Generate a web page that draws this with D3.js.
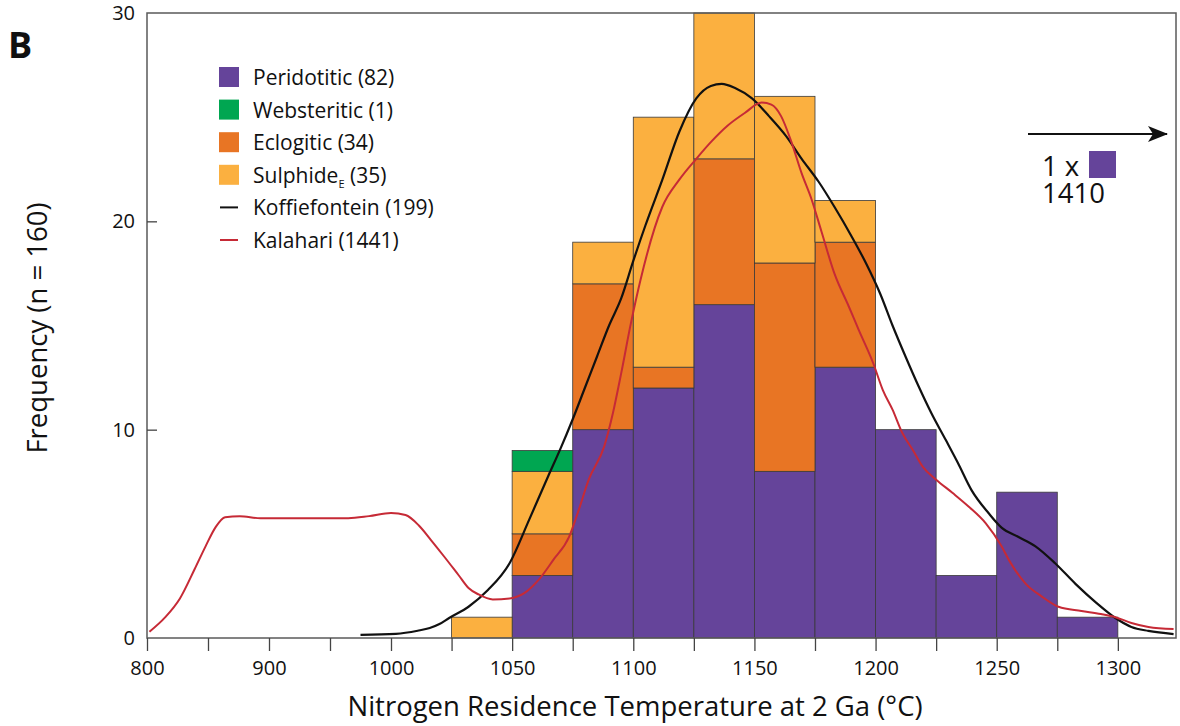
<!DOCTYPE html>
<html>
<head>
<meta charset="UTF-8">
<title>Nitrogen Residence Temperature</title>
<script src="https://d3js.org/d3.v7.min.js"></script>
<style>
  body { margin: 0; background: #fff; }
  svg { font-family: "Open Sans", "Noto Sans", sans-serif; }
  .frame { fill: none; stroke: #5a5a5a; stroke-width: 1.5; }
  .tick line { stroke: #444; stroke-width: 1.3; }
  .seg { stroke: #3a3a3a; stroke-width: 0.8; }
</style>
</head>
<body>
<svg id="chart" width="1180" height="726"></svg>
<script>
// histogram bins (left edge, bin width 25 °C)
const binStarts   = [1025, 1050, 1075, 1100, 1125, 1150, 1175, 1200, 1225, 1250, 1275];
const peridotitic = [0, 3, 10, 12, 16, 8, 13, 10, 3, 7, 1];
const eclogitic   = [0, 2, 7, 1, 7, 10, 6, 0, 0, 0, 0];
const sulphide    = [1, 3, 2, 12, 7, 8, 2, 0, 0, 0, 0];
const websteritic = [0, 1, 0, 0, 0, 0, 0, 0, 0, 0, 0];

// Koffiefontein curve
const koffT = [975, 1002, 1011, 1016, 1020, 1024, 1032, 1040, 1049, 1057, 1065, 1070, 1075, 1080, 1085, 1090,
  1095, 1100, 1105, 1112, 1119, 1126, 1132, 1136.5, 1142, 1149, 1156, 1163, 1169.5, 1176.5, 1183, 1190, 1196,
  1202, 1207, 1212.4, 1217.8, 1223, 1229, 1234, 1239.6, 1246.6, 1252, 1259, 1266, 1274, 1282.5,
  1291, 1299, 1305.6, 1312.6, 1323];
const koffF = [0.15, 0.2, 0.35, 0.48, 0.67, 0.96, 1.5, 2.3, 3.6, 5.67, 7.8, 9.1, 10.5, 12.0, 13.5, 15.0,
  16.3, 18.1, 19.8, 22.0, 24.3, 25.9, 26.5, 26.6, 26.4, 25.9, 25.05, 24.1, 23.0, 21.9, 20.7, 19.3, 18.0,
  16.5, 15.0, 13.5, 12.07, 10.8, 9.5, 8.4, 7.1, 6.0, 5.3, 4.85, 4.4, 3.6, 2.6,
  1.7, 0.96, 0.53, 0.34, 0.19];

// Kalahari curve
const kalT = [802, 815, 827, 839, 848, 856, 864, 876, 893, 926, 965, 982, 1000, 1006, 1011.5, 1016.5, 1022,
  1028, 1032, 1036, 1042, 1049, 1055, 1061, 1067, 1073.5, 1077.5, 1081.6, 1088, 1091.6, 1095, 1099, 1103,
  1112, 1119, 1126, 1132, 1139, 1146, 1153, 1157, 1161, 1165, 1169.5, 1173.6, 1177.7, 1183, 1189, 1193,
  1199, 1203, 1207, 1211, 1215.5, 1219.6, 1225, 1231.7, 1238.5, 1245.5, 1252, 1255, 1262, 1268.5, 1275.5, 1285,
  1293, 1299, 1305.6, 1312.6, 1323];
const kalF = [0.3, 1.0, 1.9, 3.3, 4.4, 5.3, 5.8, 5.85, 5.75, 5.75, 5.75, 5.85, 6.0, 5.9, 5.4, 4.7, 3.9,
  3.0, 2.4, 2.1, 1.85, 1.9, 2.15, 2.8, 3.75, 4.85, 6.15, 7.6, 9.2, 10.8, 12.7, 15.1, 17.2,
  20.7, 22.0, 23.0, 23.8, 24.6, 25.2, 25.7, 25.6, 25.05, 23.9, 22.3, 21.05, 19.5, 17.5, 15.9, 14.8,
  13.2, 11.9, 10.96, 9.85, 9.0, 8.2, 7.6, 6.97, 6.3, 5.5, 4.4, 3.75, 2.6, 2.0, 1.5, 1.3,
  1.15, 1.0, 0.72, 0.53, 0.43];

const xTicks = [800, 850, 900, 950, 1000, 1025, 1050, 1075, 1100, 1125, 1150, 1175, 1200, 1225, 1250, 1275, 1300];
const xLabels = [800, 900, 1000, 1050, 1100, 1150, 1200, 1250, 1300];
const yTicks = [0, 10, 20, 30];

const colors = {
  peridotitic: "#65449a",
  websteritic: "#00a651",
  eclogitic: "#e87524",
  sulphide: "#fbb040"
};

const margin = { top: 13, left: 147 };
const width = 1029, height = 625;

const svg = d3.select("#chart");
const g = svg.append("g").attr("transform", `translate(${margin.left},${margin.top})`);

// broken x scale: 800-1000 compressed
const x = d3.scaleLinear().domain([800, 1000, 1324]).range([0, 244, width]);
const y = d3.scaleLinear().domain([0, 30]).range([height, 0]);

// stacked bars
const rows = binStarts.map((b, i) => ({
  bin: b,
  peridotitic: peridotitic[i],
  eclogitic: eclogitic[i],
  sulphide: sulphide[i],
  websteritic: websteritic[i]
}));
const keys = ["peridotitic", "eclogitic", "sulphide", "websteritic"];
const stacked = d3.stack().keys(keys)(rows);

g.selectAll(".layer")
  .data(stacked)
  .enter().append("g")
  .attr("class", "layer")
  .attr("fill", d => colors[d.key])
  .selectAll("rect")
  .data(d => d.filter(s => s[1] > s[0]))
  .enter().append("rect")
  .attr("class", "seg")
  .attr("x", d => x(d.data.bin))
  .attr("width", d => x(d.data.bin + 25) - x(d.data.bin))
  .attr("y", d => y(d[1]))
  .attr("height", d => y(d[0]) - y(d[1]));

// curves
const line = d3.line().curve(d3.curveMonotoneX);
g.append("path")
  .attr("d", line(koffT.map((t, i) => [x(t), y(koffF[i])])))
  .attr("fill", "none").attr("stroke", "#111").attr("stroke-width", 2.2);
g.append("path")
  .attr("d", line(kalT.map((t, i) => [x(t), y(kalF[i])])))
  .attr("fill", "none").attr("stroke", "#c62a36").attr("stroke-width", 2);

// frame
g.append("rect").attr("class", "frame")
  .attr("x", 0).attr("y", 0).attr("width", width).attr("height", height);

// x axis
const xAxis = g.append("g").attr("transform", `translate(0,${height})`)
  .call(d3.axisBottom(x).tickValues(xTicks).tickSize(13).tickSizeOuter(0)
    .tickFormat(d => xLabels.includes(d) ? d : ""));
xAxis.select(".domain").remove();
xAxis.selectAll("text").attr("font-size", 20).attr("fill", "#111").attr("dy", "1.05em")
  .attr("font-family", "Open Sans, sans-serif");

// y axis (ticks point inward)
const yAxis = g.append("g")
  .call(d3.axisRight(y).tickValues(yTicks).tickSize(10).tickSizeOuter(0));
yAxis.select(".domain").remove();
yAxis.selectAll(".tick line").filter(d => d === 0 || d === 30).remove();
yAxis.selectAll("text").attr("x", -12).attr("text-anchor", "end")
  .attr("font-size", 20).attr("fill", "#111").attr("font-family", "Open Sans, sans-serif");

// axis titles
svg.append("text")
  .attr("x", 635).attr("y", 716)
  .attr("text-anchor", "middle").attr("font-size", 27.5).attr("fill", "#111")
  .text("Nitrogen Residence Temperature at 2 Ga (°C)");

svg.append("text")
  .attr("transform", "translate(47,328) rotate(-90)")
  .attr("text-anchor", "middle").attr("font-size", 27.5).attr("fill", "#111")
  .text("Frequency (n = 160)");

svg.append("text")
  .attr("x", 8).attr("y", 58)
  .attr("font-size", 36).attr("font-weight", "bold").attr("fill", "#111")
  .text("B");

// legend
const legend = [
  { type: "box", color: colors.peridotitic, label: "Peridotitic (82)" },
  { type: "box", color: colors.websteritic, label: "Websteritic (1)" },
  { type: "box", color: colors.eclogitic, label: "Eclogitic (34)" },
  { type: "box", color: colors.sulphide, label: "Sulphide", sub: "E", rest: " (35)" },
  { type: "line", color: "#111", label: "Koffiefontein (199)" },
  { type: "line", color: "#c62a36", label: "Kalahari (1441)" }
];
const lg = svg.append("g").attr("transform", "translate(219,77)");
const item = lg.selectAll(".item").data(legend).enter().append("g")
  .attr("transform", (d, i) => `translate(0,${i * 32.6})`);
item.filter(d => d.type === "box").append("rect")
  .attr("x", 0).attr("y", -10).attr("width", 20).attr("height", 20)
  .attr("fill", d => d.color);
item.filter(d => d.type === "line").append("line")
  .attr("x1", 1).attr("x2", 19).attr("y1", 0).attr("y2", 0)
  .attr("stroke", d => d.color).attr("stroke-width", 2);
const lt = item.append("text").attr("x", 34).attr("y", 8)
  .attr("font-size", 21).attr("fill", "#111");
lt.append("tspan").text(d => d.label);
lt.filter(d => d.sub).append("tspan").attr("font-size", 11).attr("dy", 5).text(d => d.sub);
lt.filter(d => d.sub).append("tspan").attr("dy", -5).text(d => d.rest);

// off-scale annotation
const defs = svg.append("defs");
defs.append("marker").attr("id", "arrow").attr("viewBox", "0 0 20 16")
  .attr("refX", 19).attr("refY", 8).attr("markerWidth", 20).attr("markerHeight", 16)
  .attr("markerUnits", "userSpaceOnUse").attr("orient", "auto")
  .append("path").attr("d", "M0,0 L20,8 L0,16 L5,8 Z").attr("fill", "#111");
svg.append("line")
  .attr("x1", 1028).attr("x2", 1167).attr("y1", 134).attr("y2", 134)
  .attr("stroke", "#111").attr("stroke-width", 2).attr("marker-end", "url(#arrow)");
const note = svg.append("text").attr("font-size", 27.5).attr("fill", "#111");
note.append("tspan").attr("x", 1042).attr("y", 176).text("1 x");
note.append("tspan").attr("x", 1042).attr("y", 203).text("1410");
svg.append("rect").attr("x", 1089).attr("y", 151).attr("width", 27).attr("height", 27).attr("fill", colors.peridotitic);
</script>
</body>
</html>
